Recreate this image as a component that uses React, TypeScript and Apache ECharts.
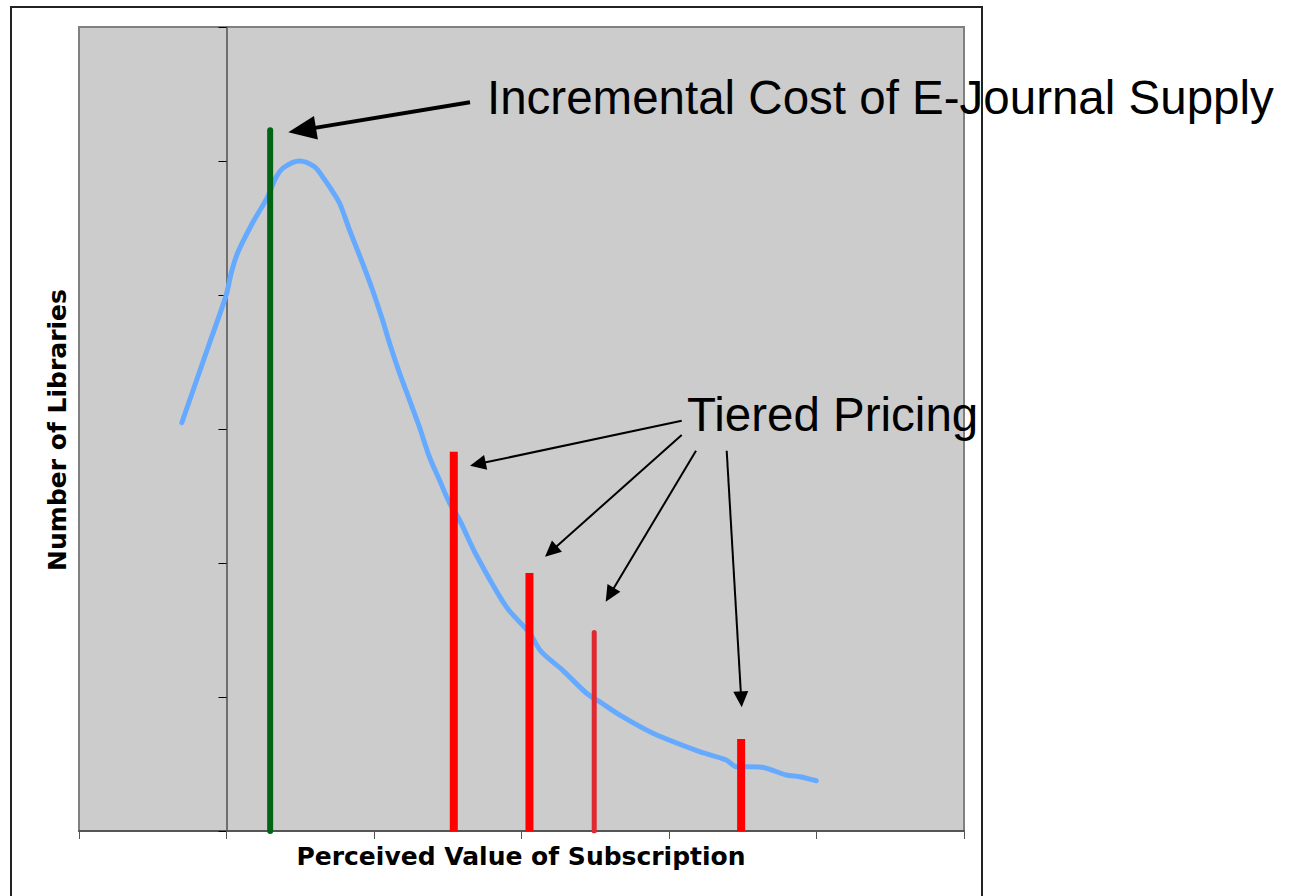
import React, { useEffect, useRef } from "react";
import * as echarts from "echarts";

// Demand curve: perceived value (x) vs number of libraries (y)
const curveX = [-0.303, -0.115, -0.002, 0.032, 0.075, 0.176, 0.278, 0.337, 0.393, 0.495, 0.597, 0.651, 0.698, 0.766, 0.834, 0.922, 0.99, 1.058, 1.105, 1.173, 1.241, 1.308, 1.376, 1.444, 1.512, 1.58, 1.693, 1.896, 2.054, 2.134, 2.278, 2.439, 2.529, 2.685, 2.888, 3.207, 3.388, 3.456, 3.614, 3.795, 3.886, 3.998];
const curveY = [3.047, 3.642, 4.0, 4.164, 4.313, 4.537, 4.731, 4.881, 4.955, 5.0, 4.957, 4.883, 4.808, 4.687, 4.485, 4.239, 4.037, 3.813, 3.642, 3.418, 3.216, 3.015, 2.791, 2.619, 2.448, 2.321, 2.06, 1.674, 1.478, 1.338, 1.201, 1.03, 0.965, 0.853, 0.731, 0.592, 0.53, 0.48, 0.478, 0.418, 0.405, 0.375];

// Incremental cost of e-journal supply (green spike)
const costX = 0.296;
const costY = 5.23;

// Tiered pricing spikes
const tierX = [1.541, 2.054, 2.493, 3.489];
const tierY = [2.83, 1.925, 1.481, 0.687];
const tierColors = ["#ff0000", "#ff0000", "#e02a32", "#ff0000"];
const tierWidths = [8, 8, 5, 8];
const tierCaps = ["butt", "butt", "round", "butt"];

const xTicks = { min: -1, max: 5, interval: 1 };
const yTicks = { min: 0, max: 6, interval: 1 };

const FONT = "Liberation Sans";
const BOLD_FONT = "DejaVu Sans";

function arrow(x1: number, y1: number, x2: number, y2: number, w: number, headLen: number, headHalf: number) {
  const dx = x2 - x1;
  const dy = y2 - y1;
  const len = Math.sqrt(dx * dx + dy * dy);
  const ux = dx / len;
  const uy = dy / len;
  const bx = x2 - ux * headLen;
  const by = y2 - uy * headLen;
  const px = -uy;
  const py = ux;
  return [
    {
      type: "line",
      z: 100,
      shape: { x1, y1, x2: bx + ux * 1, y2: by + uy * 1 },
      style: { stroke: "#000", lineWidth: w },
    },
    {
      type: "polygon",
      z: 100,
      shape: {
        points: [
          [x2, y2],
          [bx + px * headHalf, by + py * headHalf],
          [bx - px * headHalf, by - py * headHalf],
        ],
      },
      style: { fill: "#000" },
    },
  ];
}

export default function App() {
  const ref = useRef<HTMLDivElement>(null);

  useEffect(() => {
    if (!ref.current) return;
    const chart = echarts.init(ref.current, undefined, { renderer: "svg" });

    const series: any[] = [
      {
        type: "line",
        name: "Demand",
        data: curveX.map((x, i) => [x, curveY[i]]),
        smooth: 0.3,
        showSymbol: false,
        symbol: "none",
        lineStyle: { color: "#66aaff", width: 5, cap: "round", join: "round" },
        z: 3,
      },
      {
        type: "line",
        name: "Incremental Cost",
        data: [
          [costX, 0],
          [costX, costY],
        ],
        showSymbol: false,
        symbol: "none",
        lineStyle: { color: "#006414", width: 6, cap: "round" },
        z: 4,
      },
      ...tierX.map((x, i) => ({
        type: "line",
        name: "Tier " + (i + 1),
        data: [
          [x, 0],
          [x, tierY[i]],
        ],
        showSymbol: false,
        symbol: "none",
        lineStyle: { color: tierColors[i], width: tierWidths[i], cap: tierCaps[i] },
        z: 4,
      })),
    ];

    const graphic: any[] = [
      {
        type: "rect",
        z: 0,
        shape: { x: 11, y: 7, width: 971, height: 910 },
        style: { fill: "none", stroke: "#222", lineWidth: 2 },
      },
      ...arrow(470, 102.3, 288.3, 132.3, 4, 28, 12),
      ...arrow(681.7, 420.7, 470, 465.7, 2, 16, 7.5),
      ...arrow(681.7, 435, 545, 556.7, 2, 16, 7.5),
      ...arrow(696, 450.7, 605.7, 601.7, 2, 16, 7.5),
      ...arrow(726.7, 450.7, 741.7, 707.3, 2, 16, 7.5),
      {
        type: "text",
        z: 101,
        x: 487,
        y: 97,
        style: {
          text: "Incremental Cost of E-Journal Supply",
          fontFamily: FONT,
          fontSize: 47.5,
          fill: "#000",
          verticalAlign: "middle",
          align: "left",
        },
      },
      {
        type: "text",
        z: 101,
        x: 687,
        y: 414,
        style: {
          text: "Tiered Pricing",
          fontFamily: FONT,
          fontSize: 47.5,
          fill: "#000",
          verticalAlign: "middle",
          align: "left",
        },
      },
      {
        type: "text",
        z: 101,
        x: 521,
        y: 856,
        style: {
          text: "Perceived Value of Subscription",
          fontFamily: BOLD_FONT,
          fontWeight: "bold",
          fontSize: 25,
          fill: "#000",
          verticalAlign: "middle",
          align: "center",
        },
      },
      {
        type: "text",
        z: 101,
        x: 57,
        y: 430,
        rotation: Math.PI / 2,
        style: {
          text: "Number of Libraries",
          fontFamily: BOLD_FONT,
          fontWeight: "bold",
          fontSize: 25,
          fill: "#000",
          verticalAlign: "middle",
          align: "center",
        },
      },
    ];

    chart.setOption({
      animation: false,
      backgroundColor: "#ffffff",
      grid: {
        left: 79,
        top: 27,
        right: 1291 - 964,
        bottom: 896 - 831,
        show: true,
        backgroundColor: "#cccccc",
        borderColor: "#808080",
        borderWidth: 2,
      },
      xAxis: {
        type: "value",
        min: xTicks.min,
        max: xTicks.max,
        interval: xTicks.interval,
        axisLine: { show: true, onZero: false, lineStyle: { color: "#555", width: 2 } },
        axisTick: { show: true, length: 8, lineStyle: { color: "#555", width: 1 } },
        axisLabel: { show: false },
        splitLine: { show: false },
      },
      yAxis: {
        type: "value",
        min: yTicks.min,
        max: yTicks.max,
        interval: yTicks.interval,
        axisLine: { show: true, onZero: true, lineStyle: { color: "#6e6e6e", width: 2 } },
        axisTick: { show: true, length: 8, lineStyle: { color: "#000", width: 1 } },
        axisLabel: { show: false },
        splitLine: { show: false },
      },
      series,
      graphic,
    });

    return () => {
      chart.dispose();
    };
  }, []);

  return (
    <div
      ref={ref}
      style={{ position: "fixed", left: 0, top: 0, width: 1291, height: 896 }}
    />
  );
}
